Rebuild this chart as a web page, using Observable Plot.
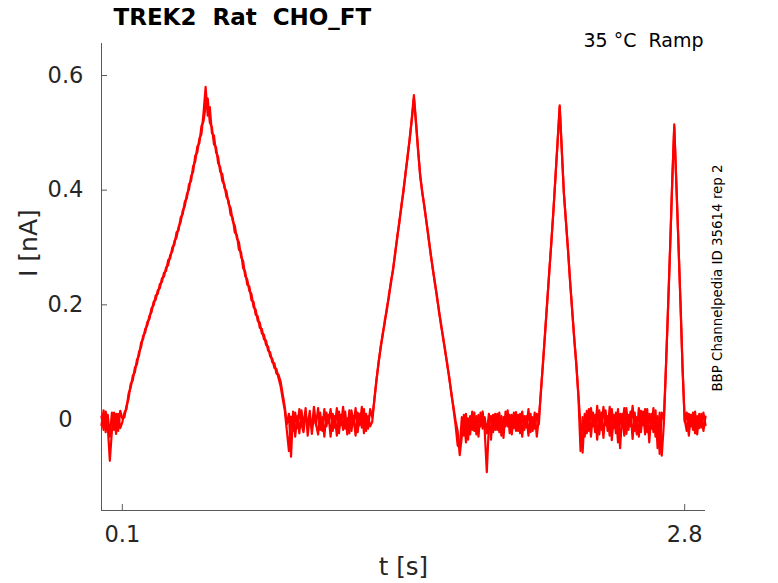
<!DOCTYPE html>
<html>
<head>
<meta charset="utf-8">
<script src="https://cdn.jsdelivr.net/npm/d3@7"></script>
<script src="https://cdn.jsdelivr.net/npm/@observablehq/plot@0.6"></script>
<style>
  html, body { margin: 0; padding: 0; background: #fff; }
  #chart { width: 778px; height: 583px; }
</style>
</head>
<body>
<div id="chart"></div>
<script>
// ---- texts ----
const titleText = "TREK2  Rat  CHO_FT";
const conditionText = "35 °C  Ramp";
const sourceText = "BBP Channelpedia ID 35614 rep 2";
const xLabel = "t [s]";
const yLabel = "I [nA]";

// ---- axes ----
const xDomain = [0, 2.9];
const yDomain = [-0.1587, 0.6558];
const xTicks = [0.1, 2.8];
const yTicks = [0, 0.2, 0.4, 0.6];

// ---- sampling ----
const dt = 0.01; // s, one value per 10 ms starting at t = 0

// ---- current sweeps (nA) ----
const sweepA = [
  0.005, -0.018, 0.014, -0.012, -0.072, -0.02, 0.012, -0.025, 0.01, -0.015,
  -0.005, 0.012, 0.018, 0.045, 0.055, 0.076, 0.082, 0.104, 0.111, 0.134,
  0.141, 0.158, 0.164, 0.181, 0.187, 0.205, 0.209, 0.225, 0.229, 0.246,
  0.249, 0.265, 0.269, 0.287, 0.293, 0.311, 0.317, 0.336, 0.344, 0.364,
  0.372, 0.393, 0.401, 0.424, 0.432, 0.46, 0.466, 0.49, 0.498, 0.535,
  0.58, 0.53, 0.545, 0.5, 0.495, 0.466, 0.458, 0.432, 0.428, 0.404,
  0.398, 0.376, 0.369, 0.346, 0.338, 0.316, 0.309, 0.284, 0.276, 0.25,
  0.244, 0.224, 0.219, 0.196, 0.192, 0.172, 0.169, 0.15, 0.148, 0.13,
  0.127, 0.11, 0.106, 0.09, 0.088, 0.072, 0.058, 0.036, 0.016, -0.02,
  -0.055, 0.005, -0.02, 0.012, -0.015, 0.018, -0.008, -0.022, 0.01, -0.012,
  0.015, -0.025, 0.008, -0.01, 0.02, -0.018, 0.004, -0.03, 0.012, -0.006,
  0.018, -0.02, 0.006, -0.028, 0.014, -0.01, 0.022, -0.016, 0.002, -0.024,
  0.016, -0.008, 0.02, -0.022, 0.01, -0.014, 0.018, -0.02, 0.006, -0.012,
  -0.004, 0.036, 0.066, 0.1, 0.123, 0.15, 0.168, 0.195, 0.213, 0.242,
  0.26, 0.292, 0.316, 0.347, 0.37, 0.402, 0.428, 0.462, 0.488, 0.527,
  0.566, 0.52, 0.472, 0.424, 0.398, 0.37, 0.346, 0.316, 0.292, 0.263,
  0.242, 0.214, 0.192, 0.164, 0.145, 0.118, 0.098, 0.07, 0.047, 0.018,
  -0.01, -0.045, -0.05, 0.004, -0.028, 0.01, -0.035, 0.006, -0.018, 0.012,
  -0.026, 0.008, -0.012, 0.014, -0.02, -0.092, -0.01, 0.006, -0.022, 0.01,
  -0.018, 0.012, -0.028, 0.004, -0.012, 0.016, -0.024, 0.008, -0.015, 0.013,
  -0.02, 0.01, -0.03, 0.006, -0.014, 0.018, -0.022, 0.004, -0.016, 0.01,
  -0.008, 0.052, 0.098, 0.154, 0.203, 0.26, 0.308, 0.366, 0.423, 0.487,
  0.548, 0.468, 0.396, 0.344, 0.296, 0.238, 0.192, 0.138, 0.096, 0.038,
  -0.055, 0.004, -0.03, 0.015, -0.02, 0.02, -0.012, 0.008, -0.035, 0.016,
  -0.018, 0.022, -0.01, 0.006, -0.028, 0.018, -0.015, 0.012, -0.04, 0.01,
  -0.014, 0.02, -0.025, 0.008, -0.012, 0.024, -0.02, 0.004, -0.03, 0.015,
  -0.01, 0.018, -0.022, 0.01, -0.016, 0.02, -0.03, 0.006, -0.06, 0.012,
  0.0, 0.092, 0.19, 0.3, 0.41, 0.515, 0.41, 0.31, 0.2, 0.09,
  0.0, -0.02, 0.01, -0.012, 0.012, -0.024, 0.006, -0.015, 0.01, -0.02,
  0.005
];
const sweepB = [
  -0.01, 0.016, -0.022, 0.008, -0.03, 0.012, -0.018, 0.01, -0.02, 0.015,
  0.002, 0.004, 0.024, 0.036, 0.062, 0.068, 0.09, 0.096, 0.118, 0.126,
  0.146, 0.152, 0.17, 0.175, 0.194, 0.199, 0.216, 0.219, 0.236, 0.24,
  0.256, 0.259, 0.278, 0.281, 0.3, 0.305, 0.326, 0.33, 0.352, 0.358,
  0.38, 0.386, 0.41, 0.416, 0.442, 0.45, 0.476, 0.482, 0.512, 0.52,
  0.548, 0.56, 0.518, 0.51, 0.48, 0.475, 0.447, 0.44, 0.416, 0.41,
  0.388, 0.382, 0.357, 0.352, 0.326, 0.322, 0.296, 0.292, 0.264, 0.258,
  0.235, 0.232, 0.208, 0.205, 0.183, 0.18, 0.16, 0.158, 0.14, 0.138,
  0.12, 0.117, 0.1, 0.098, 0.08, 0.078, 0.066, 0.044, 0.022, -0.008,
  0.01, -0.065, 0.014, -0.03, 0.006, -0.024, 0.016, -0.012, 0.02, -0.028,
  0.006, -0.016, 0.022, -0.008, -0.026, 0.012, -0.02, 0.018, -0.012, 0.008,
  -0.03, 0.01, -0.014, 0.02, -0.024, 0.008, -0.018, 0.014, -0.026, 0.016,
  -0.02, 0.006, -0.028, 0.012, -0.01, 0.022, -0.024, 0.01, -0.016, 0.018,
  0.004, 0.032, 0.07, 0.096, 0.127, 0.146, 0.173, 0.19, 0.218, 0.238,
  0.264, 0.288, 0.32, 0.342, 0.375, 0.397, 0.432, 0.457, 0.492, 0.522,
  0.56, 0.516, 0.468, 0.428, 0.395, 0.374, 0.344, 0.32, 0.288, 0.266,
  0.238, 0.218, 0.188, 0.168, 0.141, 0.122, 0.094, 0.074, 0.043, 0.022,
  -0.002, -0.02, -0.062, -0.03, 0.008, -0.04, 0.002, -0.026, 0.014, -0.02,
  0.006, -0.03, 0.012, -0.016, 0.004, -0.024, 0.01, -0.035, 0.008, -0.018,
  0.01, -0.022, 0.006, -0.032, 0.014, -0.012, 0.008, -0.026, 0.012, -0.02,
  0.008, -0.024, 0.014, -0.018, 0.006, -0.028, 0.01, -0.02, 0.012, -0.03,
  0.004, 0.048, 0.102, 0.15, 0.207, 0.256, 0.312, 0.364, 0.427, 0.483,
  0.545, 0.472, 0.394, 0.346, 0.294, 0.242, 0.188, 0.142, 0.094, 0.042,
  -0.01, -0.058, 0.01, -0.024, 0.018, -0.03, 0.012, -0.022, 0.024, -0.026,
  0.012, -0.032, 0.016, -0.02, 0.022, -0.036, 0.008, -0.024, 0.018, -0.05,
  0.01, -0.028, 0.02, -0.018, 0.014, -0.034, 0.012, -0.026, 0.02, -0.022,
  0.014, -0.026, 0.018, -0.04, 0.01, -0.022, 0.016, -0.05, 0.012, -0.063,
  -0.008, 0.088, 0.194, 0.296, 0.414, 0.51, 0.414, 0.306, 0.204, 0.086,
  -0.004, 0.012, -0.028, 0.008, -0.018, 0.014, -0.026, 0.01, -0.014, 0.012,
  -0.01
];

const sweeps = [sweepA, sweepB];
const rows = sweeps.flatMap((arr, k) =>
  arr.map((v, i) => ({ t: +(i * dt).toFixed(3), I: v, sweep: k }))
);

const axisColor = "#5a5a5a";
const labelColor = "#262626";
const font = "DejaVu Sans";

const chart = Plot.plot({
  width: 778,
  height: 583,
  marginLeft: 101,
  marginRight: 73,
  marginTop: 43,
  marginBottom: 73,
  style: { fontFamily: font, background: "#fff", overflow: "visible" },
  x: { domain: xDomain },
  y: { domain: yDomain },
  marks: [
    // spines
    Plot.ruleX([xDomain[0]], { stroke: axisColor, strokeWidth: 1 }),
    Plot.ruleY([yDomain[0]], { stroke: axisColor, strokeWidth: 1 }),
    // inward ticks
    Plot.axisX(xTicks, { tickSize: 6, dy: -6, tickFormat: () => "", label: null, stroke: axisColor }),
    Plot.axisY(yTicks, { tickSize: 6, dx: 6, tickFormat: () => "", label: null, stroke: axisColor }),
    // tick labels
    Plot.axisX(xTicks, { tickSize: 0, tickPadding: 16, label: null, fontSize: 22.5, fill: labelColor, tickFormat: d => String(d) }),
    Plot.axisY(yTicks, { tickSize: 0, tickPadding: 36, textAnchor: "middle", label: null, fontSize: 22.5, fill: labelColor, tickFormat: d => String(d) }),
    // data
    Plot.line(rows, { x: "t", y: "I", z: "sweep", stroke: "#ff0000", strokeWidth: 2.2, strokeLinejoin: "round" }),
    // axis labels
    Plot.text([xLabel], { frameAnchor: "bottom", dy: 57, fontSize: 24.5, fill: labelColor, lineAnchor: "middle" }),
    Plot.text([yLabel], { frameAnchor: "left", dx: -73, rotate: -90, fontSize: 25, fill: labelColor, lineAnchor: "middle" }),
    // title & annotations
    Plot.text([titleText], { frameAnchor: "top-left", dx: 12, dy: -26, textAnchor: "start", lineAnchor: "middle", fontSize: 23, fontWeight: "bold", fill: "#000" }),
    Plot.text([conditionText], { frameAnchor: "top-right", dx: -2, dy: -3, textAnchor: "end", lineAnchor: "middle", fontSize: 19, fill: "#000" }),
    Plot.text([sourceText], { frameAnchor: "right", dx: 12, dy: 1, rotate: -90, textAnchor: "middle", lineAnchor: "middle", fontSize: 13.4, fill: "#000" })
  ]
});

document.getElementById("chart").appendChild(chart);
</script>
</body>
</html>
